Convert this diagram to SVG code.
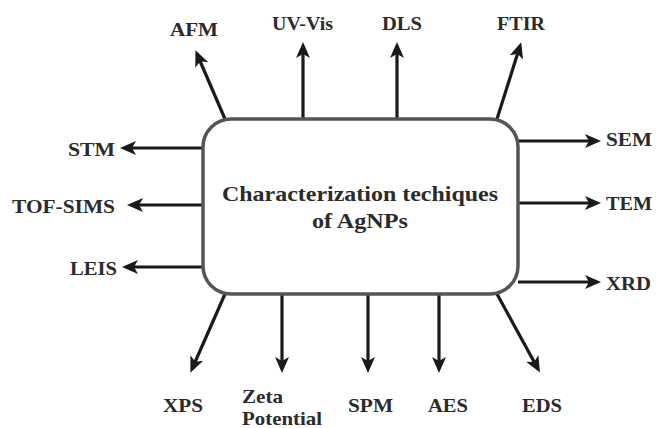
<svg xmlns="http://www.w3.org/2000/svg" width="656" height="428" viewBox="0 0 656 428">
<style>
.lbl{font-family:"Liberation Serif","Times New Roman",serif;font-weight:bold;font-size:19px;fill:#2b2b2b}
.ttl{font-family:"Liberation Serif","Times New Roman",serif;font-weight:bold;font-size:21px;fill:#2b2b2b}
.box{fill:#fff;stroke:#555;stroke-width:3.5}
.c{stroke:#1a1a1a;stroke-width:3.2;fill:none;marker-end:url(#ah)}
</style>
<defs>
<marker id="ah" markerUnits="userSpaceOnUse" markerWidth="16" markerHeight="14" refX="12" refY="7" orient="auto" viewBox="0 0 16 14">
<path d="M0,0 L16,7 L0,14 L4,7 z" fill="#1a1a1a"/>
</marker>
</defs>
<rect width="656" height="428" fill="#fff"/>
<g id="connectors">
<line class="c" x1="225" y1="119" x2="197" y2="54"/>
<line class="c" x1="303" y1="119" x2="303" y2="46"/>
<line class="c" x1="397" y1="119" x2="397" y2="46"/>
<line class="c" x1="497" y1="119" x2="520" y2="46"/>
<line class="c" x1="518" y1="141" x2="597" y2="141"/>
<line class="c" x1="518" y1="203" x2="597" y2="203"/>
<line class="c" x1="518" y1="282" x2="597" y2="282"/>
<line class="c" x1="203" y1="148" x2="124" y2="148"/>
<line class="c" x1="203" y1="205" x2="131" y2="205"/>
<line class="c" x1="203" y1="267" x2="126" y2="267"/>
<line class="c" x1="225" y1="294" x2="192" y2="369"/>
<line class="c" x1="282" y1="294" x2="282" y2="369"/>
<line class="c" x1="368" y1="294" x2="368" y2="369"/>
<line class="c" x1="439" y1="294" x2="439" y2="369"/>
<line class="c" x1="497" y1="294" x2="538" y2="369"/>
</g>
<g id="center">
<rect class="box" x="203" y="119" width="315" height="175" rx="28" ry="28"/>
<text class="ttl" x="360" y="201" text-anchor="middle" textLength="276" lengthAdjust="spacingAndGlyphs">Characterization techiques</text>
<text class="ttl" x="360" y="228" text-anchor="middle" textLength="96" lengthAdjust="spacingAndGlyphs">of AgNPs</text>
</g>
<g id="afm"><text class="lbl" x="170" y="36" textLength="48" lengthAdjust="spacingAndGlyphs">AFM</text></g>
<g id="uvvis"><text class="lbl" x="272" y="30" textLength="61" lengthAdjust="spacingAndGlyphs">UV-Vis</text></g>
<g id="dls"><text class="lbl" x="382" y="30" textLength="40" lengthAdjust="spacingAndGlyphs">DLS</text></g>
<g id="ftir"><text class="lbl" x="497" y="30" textLength="48" lengthAdjust="spacingAndGlyphs">FTIR</text></g>
<g id="sem"><text class="lbl" x="606" y="146" textLength="46" lengthAdjust="spacingAndGlyphs">SEM</text></g>
<g id="tem"><text class="lbl" x="606" y="210" textLength="46" lengthAdjust="spacingAndGlyphs">TEM</text></g>
<g id="xrd"><text class="lbl" x="606" y="290" textLength="45" lengthAdjust="spacingAndGlyphs">XRD</text></g>
<g id="stm"><text class="lbl" x="68" y="156" textLength="47" lengthAdjust="spacingAndGlyphs">STM</text></g>
<g id="tofsims"><text class="lbl" x="12" y="213" textLength="103" lengthAdjust="spacingAndGlyphs">TOF-SIMS</text></g>
<g id="leis"><text class="lbl" x="70" y="275" textLength="47" lengthAdjust="spacingAndGlyphs">LEIS</text></g>
<g id="xps"><text class="lbl" x="163" y="412" textLength="40" lengthAdjust="spacingAndGlyphs">XPS</text></g>
<g id="zeta"><text class="lbl" x="242" y="403" textLength="41" lengthAdjust="spacingAndGlyphs">Zeta</text><text class="lbl" x="242" y="425" textLength="80" lengthAdjust="spacingAndGlyphs">Potential</text></g>
<g id="spm"><text class="lbl" x="348" y="412" textLength="45" lengthAdjust="spacingAndGlyphs">SPM</text></g>
<g id="aes"><text class="lbl" x="428" y="412" textLength="40" lengthAdjust="spacingAndGlyphs">AES</text></g>
<g id="eds"><text class="lbl" x="522" y="412" textLength="40" lengthAdjust="spacingAndGlyphs">EDS</text></g>
</svg>
